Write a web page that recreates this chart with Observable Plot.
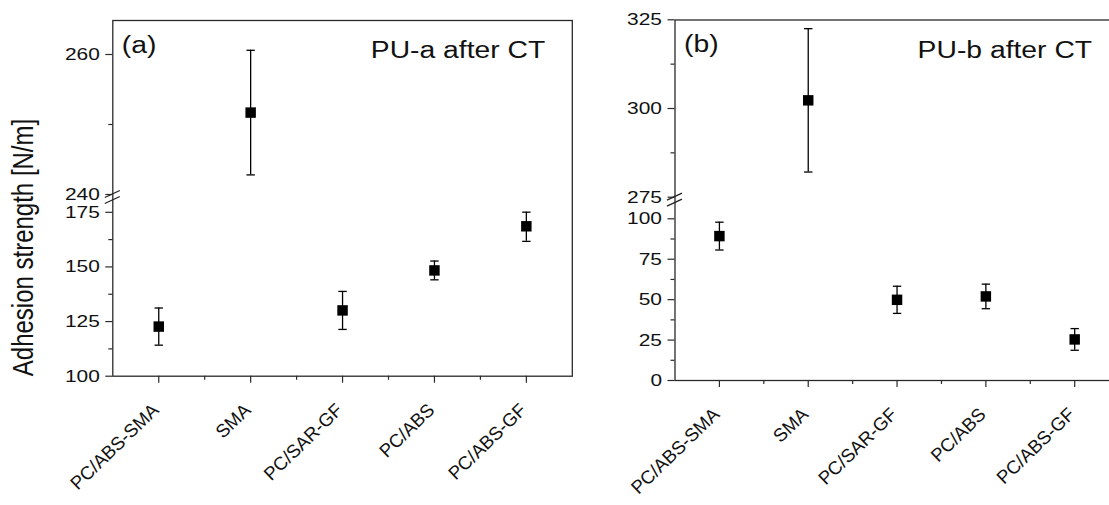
<!DOCTYPE html>
<html><head><meta charset="utf-8">
<script src="https://cdn.jsdelivr.net/npm/d3@7"></script>
<script src="https://cdn.jsdelivr.net/npm/@observablehq/plot@0.6"></script>
<style>
html,body{margin:0;padding:0;background:#fff;}
#wrap{position:relative;width:1109px;height:505px;overflow:hidden;background:#fff;}
#pa,#pb{position:absolute;top:0;height:505px;}
#pa{left:0;width:590px;} #pb{left:590px;width:535px;}
#wrap svg{max-width:none !important;}
</style></head><body>
<div id="wrap"><div id="pa"></div><div id="pb"></div></div>
<script>
// ---- data ----
const categories = ["PC/ABS-SMA", "SMA", "PC/SAR-GF", "PC/ABS", "PC/ABS-GF"];
const meanA = [122.7, 251.7, 130.1, 148.4, 168.6];
const sdA   = [8.5, 8.9, 8.7, 4.3, 6.9];
const meanB = [89.3, 302.3, 49.9, 52.0, 25.4];
const sdB   = [8.6, 20.2, 8.4, 7.6, 6.7];
const yTicksA = [100, 125, 150, 175, 240, 260];
const yMinorA = [112.5, 137.5, 162.5, 250];
const yTicksB = [0, 25, 50, 75, 100, 275, 300, 325];
const yMinorB = [12.5, 37.5, 62.5, 87.5, 287.5, 312.5];
const yLabel = "Adhesion strength [N/m]";
const tagA = "(a)", titleA = "PU-a after CT";
const tagB = "(b)", titleB = "PU-b after CT";

function rows(mean, sd) {
  return categories.map((c, i) => ({i, cat: c, mean: mean[i], low: mean[i] - sd[i], high: mean[i] + sd[i]}));
}
const catIdx = categories.map((c, i) => i);
const catMid = categories.slice(1).map((c, i) => i + 0.5);

const capSymbol = {draw(ctx) { ctx.moveTo(-4.2, 0); ctx.lineTo(4.2, 0); }};

function breakMark(yUpperMin) {
  return (index, scales, values, dims) => {
    const ns = "http://www.w3.org/2000/svg";
    const g = document.createElementNS(ns, "g");
    const x = dims.marginLeft, y0 = scales.y(yUpperMin);
    for (const o of [0, 6]) {
      const l = document.createElementNS(ns, "line");
      l.setAttribute("x1", x - 7.5); l.setAttribute("y1", y0 + o + 3.5);
      l.setAttribute("x2", x + 7.5); l.setAttribute("y2", y0 + o - 3.5);
      l.setAttribute("stroke", "#222"); l.setAttribute("stroke-width", 1.3);
      g.appendChild(l);
    }
    return g;
  };
}

function panel(o) {
  const data = rows(o.mean, o.sd);
  const marks = [
    Plot.frame({stroke: "#2a2a2a", strokeWidth: 1.3}),
    Plot.axisY({ticks: o.ticks, tickSize: 7, tickPadding: 6, fontSize: 17, label: null, stroke: "#2a2a2a", strokeWidth: 1.2}),
    Plot.axisY({ticks: o.minor, tickSize: 4, tickFormat: () => "", label: null, stroke: "#2a2a2a", strokeWidth: 1.2}),
    Plot.axisX({ticks: catIdx, tickSize: 7, tickFormat: () => "", label: null, stroke: "#2a2a2a", strokeWidth: 1.2}),
    Plot.axisX({ticks: catMid, tickSize: 4, tickFormat: () => "", label: null, stroke: "#2a2a2a", strokeWidth: 1.2}),
    Plot.text(data, {x: "i", text: "cat", frameAnchor: "bottom", rotate: -44, textAnchor: "end", lineAnchor: "middle", dx: -3, dy: 31, fontSize: 18.5}),
    Plot.ruleX(data, {x: "i", y1: "low", y2: "high", stroke: "#000", strokeWidth: 1.3}),
    Plot.dot(data, {x: "i", y: "low", symbol: capSymbol, fill: "none", stroke: "#000", strokeWidth: 1.3}),
    Plot.dot(data, {x: "i", y: "high", symbol: capSymbol, fill: "none", stroke: "#000", strokeWidth: 1.3}),
    Plot.dot(data, {x: "i", y: "mean", symbol: "square", r: 5.9, fill: "#000", stroke: "none"}),
    Plot.text([o.tag], {frameAnchor: "top-left", textAnchor: "start", lineAnchor: "bottom", dx: 9, dy: 32, fontSize: 23}),
    Plot.text([o.title], {frameAnchor: "top-right", textAnchor: "end", lineAnchor: "bottom", dx: -27, dy: 37.5, fontSize: 23}),
    breakMark(o.breakAt)
  ];
  if (o.yLabel) {
    marks.push(Plot.text([o.yLabel], {frameAnchor: "left", rotate: -90, textAnchor: "middle", lineAnchor: "middle", dx: o.labelDx, dy: o.labelDy, fontSize: 24}));
  }
  return Plot.plot({
    width: o.width, height: 505,
    marginLeft: o.mL, marginRight: o.mR, marginTop: o.mT, marginBottom: o.mB,
    x: {type: "linear", domain: [-0.5, categories.length - 0.5], label: null},
    y: {type: "linear", domain: o.yDomain, range: o.yRange, label: null},
    style: {fontFamily: "'Liberation Sans', Arial, sans-serif", fontSize: "17px", color: "#111", background: "transparent", overflow: "visible"},
    marks
  });
}

const svgA = panel({
  width: 590, mL: 112.3, mR: 18.2, mT: 20, mB: 129.3,
  yDomain: [100, 175, 240, 265], yRange: [375.7, 211.8, 194, 19],
  ticks: yTicksA, minor: yMinorA, mean: meanA, sd: sdA,
  tag: tagA, title: titleA, breakAt: 240,
  yLabel: yLabel, labelDx: 23 - 112.3, labelDy: 247 - 197.85
});
const svgB = panel({
  width: 535, mL: 84.5, mR: 6.4, mT: 19.5, mB: 125,
  yDomain: [0, 100, 275, 325], yRange: [380, 218.3, 196.7, 19.3],
  ticks: yTicksB, minor: yMinorB, mean: meanB, sd: sdB,
  tag: tagB, title: titleB, breakAt: 275
});
document.getElementById("pa").appendChild(svgA);
document.getElementById("pb").appendChild(svgB);

// the reference typeface is set wider than Liberation Sans: widen texts horizontally
for (const svg of [svgA, svgB]) {
  svg.querySelectorAll("text").forEach(t => {
    const tr = t.getAttribute("transform") || "";
    if (!t.textContent) return;
    if (tr.includes("rotate(-90")) {
      t.setAttribute("transform", tr.replace("rotate(-90", "scale(1.2,1) rotate(-90"));
      return;
    }
    if (tr.includes("rotate")) return;
    const w = t.getComputedTextLength();
    if (w > 0) {
      t.setAttribute("textLength", (w * 1.23).toFixed(1));
      t.setAttribute("lengthAdjust", "spacingAndGlyphs");
    }
  });
}
</script>
</body></html>
